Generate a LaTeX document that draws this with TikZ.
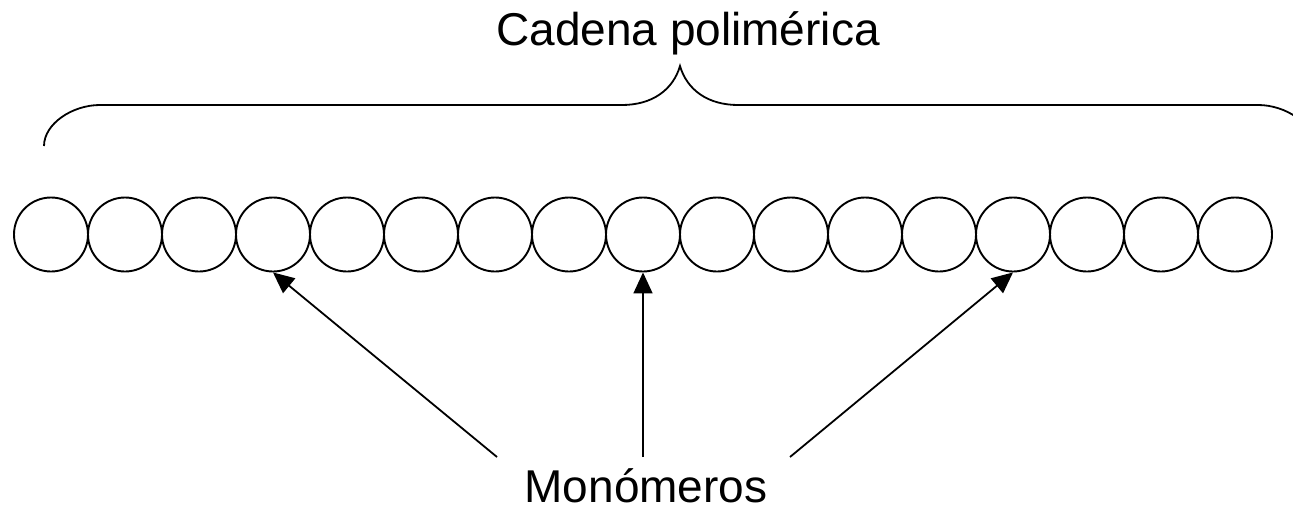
\documentclass[tikz,border=0pt]{standalone}
\usepackage{fontspec}
\setmainfont{Liberation Sans}
\usetikzlibrary{arrows.meta}

\begin{document}
\begin{tikzpicture}[x=1pt,y=-1pt,
    bead/.style={draw, circle, minimum size=74pt, inner sep=0pt, line width=1.9pt},
    tag/.style={font=\fontsize{46pt}{50pt}\selectfont, inner sep=0pt},
    pointer/.style={-{Triangle[length=21pt,width=19pt]}, line width=1.8pt}]
      \useasboundingbox (0,0) rectangle (1293,514);
      \clip (0,0) rectangle (1293,514);
      \foreach \i in {0,...,16}{
          \node[bead] (m\i) at (51+74*\i,234.5) {};
      }
      \draw[line width=1.8pt] (44,146) .. controls (44,124) and (72,105) .. (100,105) -- (622,105)
          .. controls (652,105) and (673,90) .. (680,66)
          .. controls (687,90) and (708,105) .. (738,105) -- (1258,105)
          .. controls (1286,105) and (1314,124) .. (1314,146);
      \node[tag, anchor=base] (chain) at (688,45) {Cadena polimérica};
      \node[tag, anchor=base] (mono) at (646,502) {Monómeros};
      \coordinate (s3) at (497,457);
      \coordinate (s8) at (643,457);
      \coordinate (s13) at (790,457);
      \foreach \k in {3,8,13}{
          \draw[pointer] (s\k) -- (m\k.south);
      }
\end{tikzpicture}
\end{document}
